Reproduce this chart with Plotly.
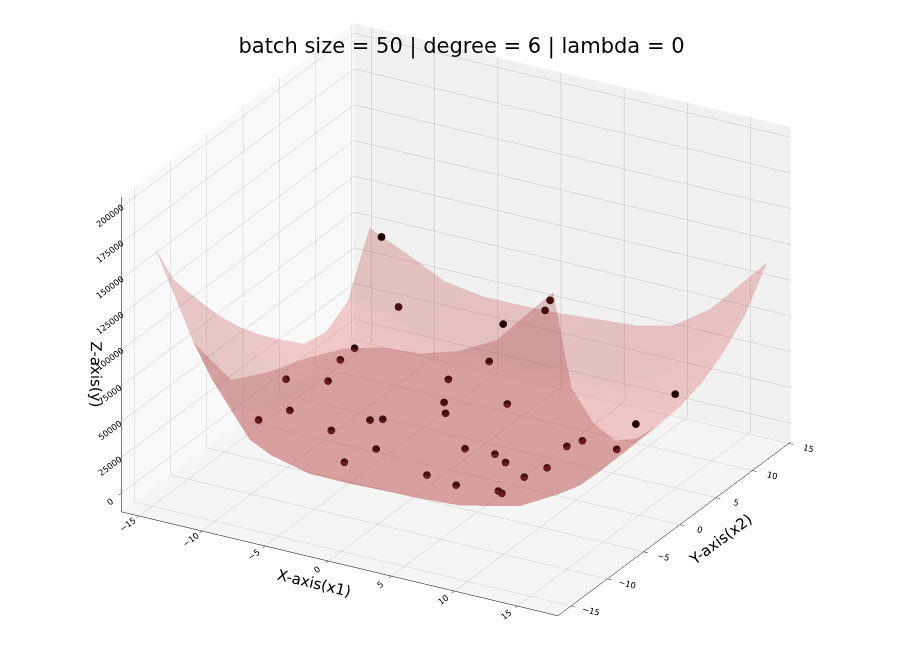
import plotly.graph_objects as go

# surface grid (x1 across, x2 down), z values
x1_grid = [-15, -12, -9, -6, -3, 0, 3, 6, 9, 12, 16.5]
x2_grid = [-14.5, -12, -9, -6, -3, 0, 3, 6, 9, 12, 15]
y_surface = [
    [165000, 106000, 86000, 98000, 114000, 127000, 134000, 136000, 144000, 158000, 201000],
    [134000, 71000, 35000, 29000, 32000, 36000, 38000, 40000, 51000, 83000, 125000],
    [110000, 39000, 12500, 6000, 5600, 6600, 7200, 8800, 15000, 36000, 89000],
    [87000, 25000, 4700, -1000, -2200, -2000, -1900, -900, 3500, 18000, 65000],
    [67000, 17300, 1700, -2900, -4000, -4000, -4000, -3200, 500, 12800, 55000],
    [50000, 12200, 300, -3200, -4000, -4000, -4000, -3200, 300, 12200, 53000],
    [35000, 7700, -900, -3400, -4000, -4000, -4000, -3200, 500, 12800, 55000],
    [21000, 4400, -1300, -3000, -3400, -3300, -3300, -2400, 1700, 15400, 60000],
    [18000, 7400, 1600, -300, -600, -500, -300, 900, 6000, 23000, 70000],
    [28000, 24000, 12700, 9400, 8900, 9200, 9800, 11700, 19000, 43000, 85000],
    [68000, 56000, 43000, 39000, 39000, 40000, 42000, 44000, 50000, 68000, 110000],
]

# training points
x1_points = [-14.0, -11.5, -3.9, -0.7, -1.1, -12.8, -12.9, -3.8, -5.8, -12.2, -4.5, -0.5,
             -3.7, 14.5, -8.9, -7.5, -7.0, 14.8, -5.0, 0.2, 6.2, 6.8, 10.7, 2.4, 3.7,
             -5.8, 6.7, 6.1, 0.0, 2.6, 5.6, 6.0, -13.0, -11.5, -11.5]
x2_points = [14.9, 12.9, 14.1, 15.0, 15.0, 9.1, 7.3, 12.0, 9.85, 4.4, 7.0, 8.75,
             5.8, 5.8, -0.9, 2.0, 2.9, -0.15, -1.5, 1.7, 5.3, 6.4, 4.35, 2.0, 1.2,
             -4.5, 1.7, -0.4, -3.2, -3.7, -3.1, -3.3, 0.0, -2.1, -6.4]
y_points = [64200, 28100, 27500, 47500, 39600, 10900, 9400, 9600, 1000, 7000, -1600, -900,
            -3000, 48700, -500, -1300, -3100, 50900, -3000, -4000, -3400, -2400, 7600, -4300, -4400,
            -2600, -3700, -3500, -4300, -4000, -4100, -4100, 23300, 12600, 22200]

x_ticks = [-15, -10, -5, 0, 5, 10, 15]
z_ticks = [0, 25000, 50000, 75000, 100000, 125000, 150000, 175000, 200000]

FONT = "DejaVu Sans"


def _axis(title, ticks, rng, pane):
    return dict(
        title=dict(text=title, font=dict(size=15, color="black")),
        tickvals=ticks, range=rng, tickformat="d",
        tickfont=dict(size=10, color="black"),
        showbackground=True, backgroundcolor=pane,
        gridcolor="rgb(192,192,192)", gridwidth=1,
        showline=True, linecolor="black", linewidth=1,
        ticks="outside", ticklen=5, tickcolor="black",
        zeroline=False, showspikes=False,
    )


fig = go.Figure()
fig.add_trace(go.Surface(
    x=x1_grid, y=x2_grid, z=y_surface,
    colorscale=[[0, "rgb(218,72,72)"], [1, "rgb(218,72,72)"]],
    showscale=False, opacity=0.27,
    lighting=dict(ambient=0.72, diffuse=0.45, specular=0.0, roughness=1.0, fresnel=0.0),
    hoverinfo="skip",
))
fig.add_trace(go.Scatter3d(
    x=x1_points, y=x2_points, z=y_points, mode="markers",
    marker=dict(size=4.5, color="rgb(35,0,0)", line=dict(width=0)),
    hoverinfo="skip",
))

eye = (0.446, -0.790, 0.422)
k = 1.12
fig.update_layout(
    width=907, height=666,
    margin=dict(l=0, r=0, t=0, b=0),
    paper_bgcolor="white",
    font=dict(family=FONT, color="black"),
    showlegend=False,
    title=dict(text="batch size = 50 | degree = 6 | lambda = 0",
               x=0.5, xanchor="center", y=0.943, yanchor="middle",
               font=dict(size=21, color="black")),
    scene=dict(
        domain=dict(x=[0.0, 0.988], y=[0.064, 1.0]),
        xaxis=_axis("X-axis(x1)", x_ticks, [-16.4, 18.2], "rgb(249,249,249)"),
        yaxis=_axis("Y-axis(x2)", x_ticks, [-16.8, 15.3], "rgb(241,241,241)"),
        zaxis=_axis("Z-axis(y)", z_ticks, [-13000, 207000], "rgb(245,245,245)"),
        aspectmode="manual",
        aspectratio=dict(x=1.61, y=1.52, z=1.114),
        camera=dict(eye=dict(x=eye[0] * k, y=eye[1] * k, z=eye[2] * k),
                    up=dict(x=0, y=0, z=1),
                    projection=dict(type="orthographic")),
    ),
)

fig.write_html("out.html")
